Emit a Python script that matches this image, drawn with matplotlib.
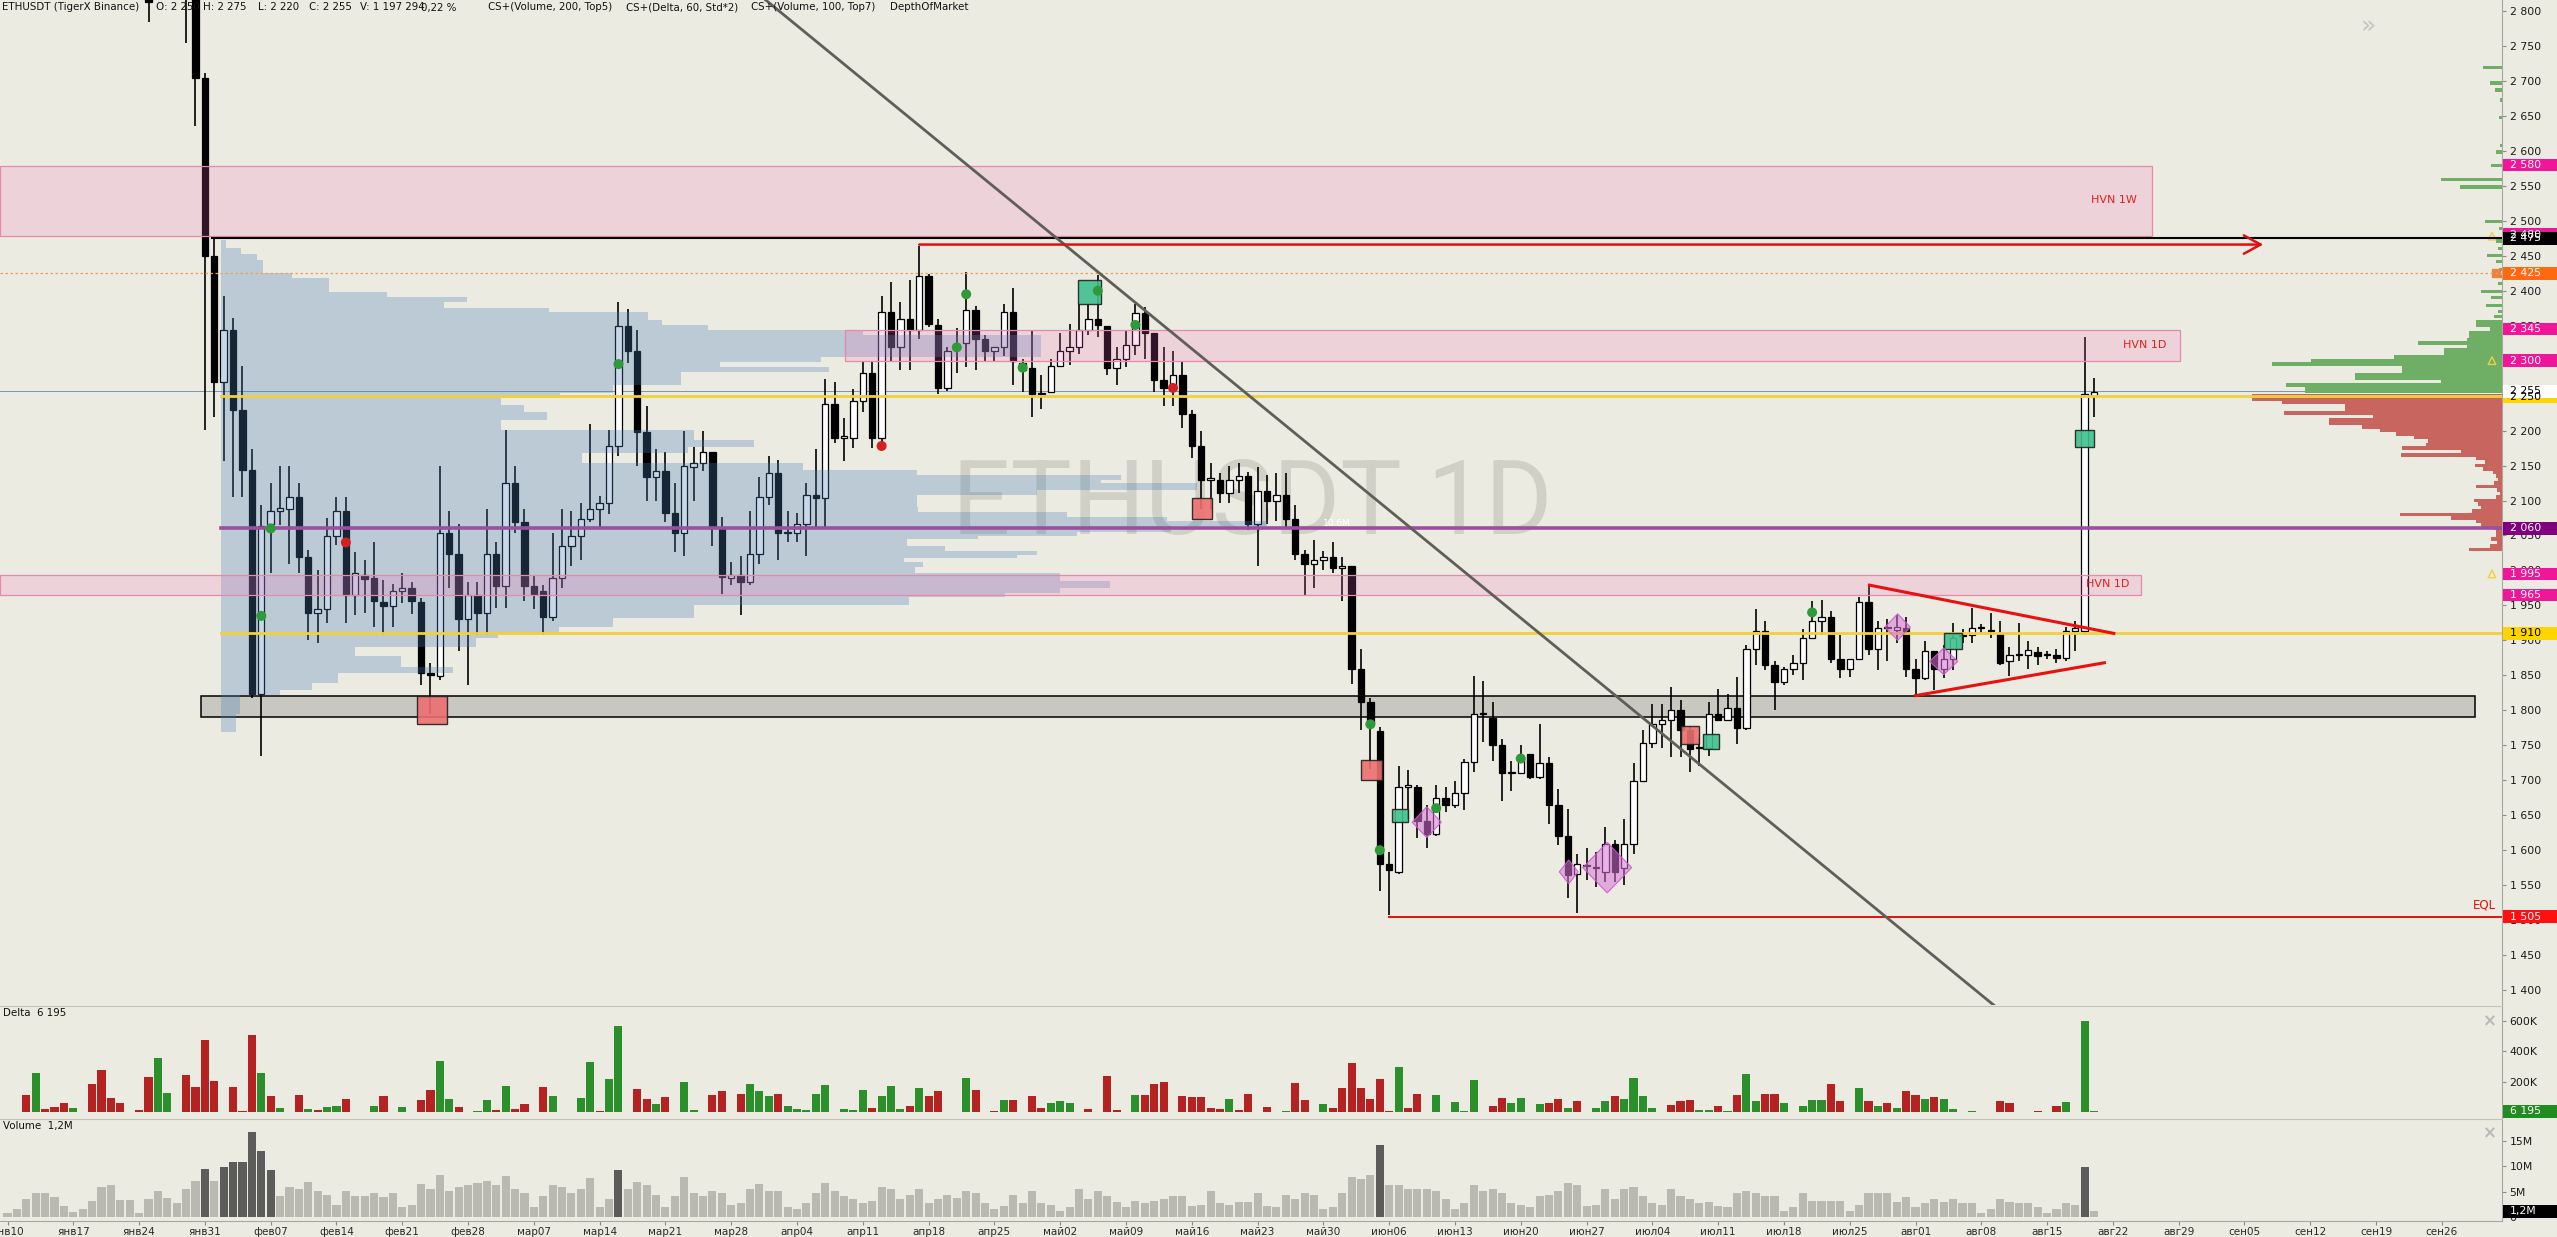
import matplotlib
matplotlib.use('Agg')
import matplotlib.pyplot as plt
from matplotlib.patches import Rectangle, Polygon, FancyArrowPatch
import numpy as np

W, H = 2557, 1237
BG = '#ecebe1'

# ---------------- data ----------------
date_labels = ['янв10','янв17','янв24','янв31','фев07','фев14','фев21','фев28','мар07','мар14',
               'мар21','мар28','апр04','апр11','апр18','апр25','май02','май09','май16','май23',
               'май30','июн06','июн13','июн20','июн27','июл04','июл11','июл18','июл25','авг01',
               'авг08','авг15','авг22','авг29','сен05','сен12','сен19','сен26']

candle_days = [15] + list(range(19, 223))
opens = [2880,
 2900, 2840, 2704, 2449, 2270, 2344, 2229, 2143, 1823, 2067,
 2085, 2088, 2105, 2019, 1939, 1945, 2049, 2085, 1965, 1993,
 1989, 1955, 1949, 1970, 1975, 1955, 1854, 1849, 2054, 2024,
 1930, 1965, 1939, 2024, 1978, 2125, 2069, 1978, 1970, 1934,
 1989, 2035, 2049, 2073, 2088, 2096, 2178, 2350, 2314, 2198,
 2133, 2142, 2082, 2054, 2148, 2153, 2169, 2060, 1989, 1994,
 1984, 2024, 2105, 2139, 2054, 2054, 2066, 2108, 2104, 2238,
 2190, 2190, 2243, 2282, 2190, 2369, 2319, 2359, 2344, 2421,
 2351, 2261, 2319, 2325, 2373, 2331, 2314, 2319, 2370, 2296,
 2290, 2252, 2255, 2293, 2314, 2319, 2344, 2360, 2350, 2289,
 2302, 2323, 2368, 2340, 2272, 2261, 2279, 2223, 2178, 2130,
 2130, 2111, 2130, 2135, 2066, 2114, 2099, 2108, 2073, 2024,
 2009, 2015, 2019, 2004, 2006, 1859, 1812, 1770, 1580, 1569,
 1691, 1691, 1642, 1623, 1674, 1665, 1682, 1726, 1795, 1789,
 1750, 1710, 1710, 1738, 1705, 1725, 1665, 1620, 1566, 1577,
 1575, 1569, 1609, 1575, 1609, 1699, 1753, 1780, 1786, 1800,
 1772, 1746, 1746, 1795, 1786, 1804, 1774, 1888, 1913, 1865,
 1840, 1859, 1868, 1904, 1928, 1934, 1874, 1859, 1874, 1955,
 1887, 1917, 1915, 1917, 1859, 1846, 1885, 1859, 1874, 1906,
 1908, 1917, 1914, 1910, 1870, 1879, 1879, 1884, 1879, 1879,
 1875, 1913, 1913, 2250]
highs = [2900,
 2950, 2860, 2712, 2474, 2393, 2361, 2293, 2173, 2094, 2125,
 2150, 2150, 2125, 2029, 2001, 2075, 2105, 2105, 2026, 2015,
 2040, 1987, 1981, 1996, 1983, 1960, 1868, 2150, 2085, 2066,
 1983, 1983, 2088, 2040, 2201, 2150, 2088, 1994, 1979, 2054,
 2088, 2085, 2096, 2210, 2107, 2201, 2384, 2374, 2344, 2235,
 2173, 2169, 2125, 2199, 2176, 2199, 2169, 2077, 2012, 2020,
 2085, 2133, 2164, 2158, 2085, 2082, 2125, 2173, 2274, 2269,
 2218, 2260, 2299, 2299, 2393, 2413, 2384, 2415, 2464, 2424,
 2359, 2319, 2347, 2427, 2378, 2336, 2319, 2381, 2404, 2302,
 2344, 2280, 2302, 2340, 2353, 2381, 2381, 2423, 2350, 2319,
 2344, 2381, 2376, 2340, 2319, 2314, 2299, 2229, 2199, 2153,
 2139, 2150, 2153, 2141, 2148, 2137, 2139, 2139, 2094, 2029,
 2043, 2028, 2040, 2019, 2006, 1888, 1817, 1776, 1597, 1721,
 1714, 1693, 1665, 1693, 1691, 1699, 1731, 1849, 1842, 1812,
 1759, 1727, 1750, 1738, 1781, 1733, 1688, 1659, 1595, 1603,
 1597, 1633, 1614, 1645, 1725, 1772, 1809, 1809, 1834, 1815,
 1778, 1761, 1812, 1831, 1823, 1848, 1893, 1945, 1928, 1871,
 1862, 1879, 1916, 1956, 1958, 1942, 1908, 1874, 1962, 1979,
 1928, 1930, 1936, 1933, 1874, 1899, 1885, 1893, 1925, 1916,
 1947, 1924, 1939, 1928, 1891, 1925, 1899, 1891, 1885, 1888,
 1919, 1927, 2334, 2275]
lows = [2784,
 2754, 2635, 2201, 2220, 2156, 2105, 2105, 1817, 1735, 1996,
 2065, 2009, 1996, 1900, 1896, 1925, 2037, 1925, 1936, 1939,
 1919, 1908, 1919, 1953, 1938, 1836, 1795, 1843, 1975, 1885,
 1836, 1908, 1907, 1947, 1947, 2054, 1956, 1945, 1908, 1928,
 1975, 2006, 2015, 2069, 2062, 2080, 2164, 2297, 2150, 2099,
 2099, 2069, 2026, 2020, 2099, 2142, 2035, 1967, 1979, 1936,
 1979, 2009, 2094, 2015, 2040, 2040, 2020, 2062, 2062, 2182,
 2156, 2175, 2227, 2175, 2173, 2299, 2286, 2286, 2331, 2348,
 2252, 2257, 2283, 2291, 2286, 2300, 2300, 2306, 2265, 2255,
 2220, 2231, 2255, 2291, 2294, 2310, 2336, 2334, 2280, 2265,
 2291, 2308, 2302, 2255, 2235, 2235, 2204, 2161, 2088, 2088,
 2096, 2096, 2111, 2058, 2006, 2066, 2071, 2060, 2015, 1964,
 1975, 2001, 1996, 1956, 1837, 1772, 1716, 1541, 1507, 1566,
 1645, 1618, 1603, 1620, 1654, 1660, 1657, 1712, 1755, 1727,
 1671, 1684, 1710, 1702, 1702, 1637, 1608, 1532, 1510, 1558,
 1547, 1554, 1554, 1550, 1595, 1697, 1746, 1746, 1733, 1733,
 1712, 1721, 1735, 1784, 1784, 1752, 1772, 1865, 1857, 1800,
 1836, 1851, 1843, 1902, 1908, 1868, 1846, 1848, 1874, 1879,
 1857, 1870, 1896, 1848, 1821, 1843, 1829, 1846, 1857, 1896,
 1896, 1911, 1904, 1865, 1849, 1870, 1859, 1865, 1873, 1868,
 1870, 1885, 1908, 2220]
closes = [2813,
 2840, 2704, 2450, 2270, 2344, 2229, 2143, 1823, 2063, 2085,
 2089, 2105, 2019, 1939, 1945, 2049, 2085, 1965, 1996, 1988,
 1956, 1949, 1970, 1975, 1956, 1854, 1851, 2054, 2024, 1930,
 1965, 1939, 2024, 1978, 2125, 2069, 1978, 1967, 1934, 1989,
 2035, 2049, 2073, 2088, 2096, 2178, 2350, 2314, 2198, 2133,
 2142, 2082, 2054, 2150, 2153, 2169, 2060, 1990, 1994, 1984,
 2024, 2105, 2139, 2054, 2054, 2066, 2108, 2104, 2238, 2190,
 2190, 2243, 2282, 2190, 2369, 2319, 2359, 2344, 2421, 2353,
 2261, 2314, 2319, 2373, 2331, 2314, 2319, 2370, 2299, 2286,
 2252, 2252, 2293, 2314, 2319, 2344, 2359, 2351, 2289, 2302,
 2323, 2368, 2340, 2272, 2261, 2279, 2223, 2178, 2130, 2130,
 2111, 2130, 2135, 2066, 2114, 2099, 2108, 2073, 2024, 2009,
 2015, 2019, 2003, 2006, 1859, 1812, 1780, 1580, 1571, 1691,
 1691, 1642, 1623, 1674, 1665, 1682, 1726, 1795, 1795, 1750,
 1710, 1712, 1731, 1705, 1725, 1665, 1620, 1564, 1580, 1577,
 1575, 1609, 1569, 1609, 1699, 1753, 1780, 1786, 1800, 1772,
 1744, 1746, 1795, 1786, 1804, 1774, 1888, 1913, 1865, 1840,
 1859, 1868, 1904, 1928, 1934, 1874, 1859, 1874, 1955, 1887,
 1917, 1917, 1919, 1859, 1846, 1885, 1859, 1874, 1904, 1908,
 1917, 1917, 1913, 1868, 1879, 1879, 1886, 1877, 1879, 1875,
 1913, 1917, 2252, 2255]

# delta (thousands) and volume (millions) for days 0..222
delta = [2, 5, -114, 259, -21, -36, -62, 31, 2, -187,
 -280, -93, -62, 3, -16, -233, 358, 130, 2, -244,
 -166, -477, -207, 2, -166, -10, -508, 259, -104, 31,
 -3, -114, 21, -16, 36, 41, -88, -5, 5, 41,
 -109, 2, 36, -5, -78, -145, 337, 88, -36, 2,
 10, 83, -16, 171, -20, -52, -3, -166, 104, 3,
 2, 93, 332, -10, 218, 565, 2, -155, -88, 52,
 -98, -2, 197, 16, -2, -114, -140, -2, -119, 187,
 140, 104, -119, 41, 21, 16, 119, 181, -2, 21,
 16, 145, -31, 104, 171, 21, -41, 161, -109, -140,
 5, 2, 223, -145, -2, -10, 83, -83, 2, -109,
 -26, 62, 73, 62, 2, -21, -2, -238, -16, 2,
 114, -114, -187, -197, -2, -109, -98, -98, -31, -21,
 88, -16, -119, -2, -36, 2, 10, -192, -78, -2,
 57, -31, -161, -326, -161, -88, -218, -10, 295, -31,
 -119, -2, 114, 2, 67, 10, 212, 2, -41, -93,
 62, 93, -2, 57, -62, -88, 31, -73, -2, 31,
 73, -109, 88, 228, 109, 31, 2, -47, -73, -78,
 16, 16, -41, 10, -114, 249, 73, -119, -119, 62,
 2, 41, 83, 83, -187, -73, -2, 161, -73, 41,
 -62, 31, -140, -114, 88, -98, 88, 21, 2, 10,
 5, 2, -73, -62, 3, -5, -10, -2, -41, 67,
 2, 601, 6]
volume = [0.8, 1.6, 3.6, 4.7, 4.8, 3.9, 2.3, 1.1, 1.6, 3.3,
 5.9, 6.4, 3.4, 3.4, 0.8, 3.6, 5.2, 3.8, 2.8, 5.5,
 7.2, 9.5, 7.2, 9.8, 10.8, 10.8, 16.7, 13.0, 9.2, 4.2,
 5.9, 5.5, 7.0, 5.2, 4.4, 2.5, 5.2, 4.1, 4.1, 4.7,
 3.9, 4.7, 2.0, 2.5, 6.6, 5.6, 8.3, 5.2, 5.9, 6.4,
 6.7, 7.2, 6.4, 8.1, 5.6, 4.8, 2.0, 4.1, 6.3, 5.9,
 4.7, 5.5, 7.8, 2.0, 3.6, 9.2, 5.5, 7.0, 6.3, 4.4,
 2.0, 4.1, 8.0, 4.7, 4.1, 5.2, 4.7, 2.5, 2.8, 5.5,
 6.6, 5.2, 5.2, 2.0, 1.6, 2.8, 4.8, 6.7, 5.2, 4.1,
 3.6, 2.8, 3.3, 5.9, 5.6, 3.6, 4.4, 5.6, 2.8, 3.6,
 4.4, 3.8, 5.2, 4.7, 2.8, 1.6, 2.3, 4.4, 2.8, 5.2,
 2.8, 2.5, 1.3, 2.0, 5.6, 3.6, 5.2, 4.1, 3.1, 2.0,
 3.3, 2.8, 3.3, 3.6, 4.1, 4.1, 2.3, 2.5, 5.2, 2.8,
 2.5, 3.1, 3.1, 4.7, 2.3, 2.0, 4.4, 3.6, 4.8, 4.4,
 1.6, 2.0, 4.8, 8.0, 7.5, 8.3, 14.2, 6.4, 6.3, 5.5,
 5.6, 5.6, 5.2, 3.6, 1.6, 2.8, 6.4, 5.2, 5.6, 4.8,
 2.8, 2.5, 2.0, 4.1, 4.4, 5.2, 6.7, 6.4, 2.3, 2.5,
 5.5, 3.6, 5.5, 5.9, 4.1, 2.8, 2.5, 5.5, 4.1, 3.6,
 2.8, 3.1, 2.3, 2.0, 4.8, 5.2, 4.8, 4.1, 4.1, 1.3,
 2.0, 4.8, 3.3, 3.3, 3.3, 3.3, 1.3, 2.5, 4.7, 4.7,
 4.7, 3.1, 3.9, 2.0, 2.8, 3.6, 3.1, 3.6, 2.8, 2.8,
 0.9, 1.6, 3.6, 3.1, 2.8, 2.8, 2.0, 0.8, 1.7, 2.8,
 2.4, 9.8, 1.2]
volume_top_days = [21, 23, 24, 25, 26, 27, 28, 65, 146, 221]

# volume profile (price bins, relative volume)
profile_lo = [2461, 2452, 2444, 2425, 2418, 2408, 2398, 2391, 2384, 2375, 2370, 2358, 2351, 2344,
              2337, 2305, 2298, 2291, 2284, 2265, 2254, 2247, 2237, 2227, 2215, 2201, 2187, 2177,
              2168, 2154, 2144, 2137, 2130, 2125, 2115, 2108, 2091, 2084, 2077, 2070, 2064, 2055,
              2049, 2045, 2035, 2028, 2022, 2018, 2012, 2005, 1996, 1985, 1975, 1968, 1962, 1951,
              1932, 1919, 1911, 1903, 1891, 1877, 1862, 1853, 1839, 1829, 1822, 1795, 1769]
profile_hi = [2472, 2461, 2452, 2444, 2425, 2418, 2408, 2398, 2391, 2384, 2375, 2370, 2358, 2351,
              2344, 2337, 2305, 2298, 2291, 2284, 2265, 2254, 2247, 2237, 2227, 2215, 2201, 2187,
              2177, 2168, 2154, 2144, 2137, 2130, 2125, 2115, 2108, 2091, 2084, 2077, 2070, 2064,
              2055, 2049, 2045, 2035, 2028, 2022, 2018, 2012, 2005, 1996, 1985, 1975, 1968, 1962,
              1951, 1932, 1919, 1911, 1903, 1891, 1877, 1862, 1853, 1839, 1829, 1822, 1795]
profile_vol = [5, 20, 36, 42, 71, 108, 108, 166, 246, 223, 328, 427, 441, 487,
               642, 820, 600, 499, 608, 460, 392, 339, 280, 303, 326, 280, 473, 533,
               467, 361, 582, 696, 900, 880, 976, 816, 696, 697, 846, 946, 1046, 950,
               856, 757, 686, 724, 816, 796, 683, 702, 694, 839, 889, 839, 784, 688,
               473, 392, 338, 277, 255, 134, 180, 232, 117, 91, 59, 19, 15]
profile_start_day = 22.7
profile_poc_label = '10,6M'

# depth of market
dom_bid_prices = [2719, 2697, 2687, 2673, 2648, 2608, 2598, 2579, 2559, 2548, 2499, 2489, 2471, 2460,
                  2450, 2442, 2430, 2420, 2410, 2399, 2390, 2379, 2370, 2363, 2355, 2350, 2345, 2340,
                  2335, 2330, 2325, 2320, 2315, 2310, 2305, 2300, 2295, 2290, 2285, 2280, 2275, 2270,
                  2265, 2260, 2256]
dom_bid_sizes = [19, 12, 7, 2, 3, 2, 6, 11, 61, 42, 17, 3, 6, 4,
                 15, 6, 3, 5, 4, 21, 11, 16, 4, 8, 26, 26, 12, 33,
                 33, 35, 84, 35, 58, 58, 108, 191, 230, 100, 100, 147, 147, 61,
                 216, 197, 197]
dom_ask_prices = [2250, 2245, 2240, 2235, 2230, 2225, 2220, 2215, 2210, 2205, 2200, 2195, 2190, 2185,
                  2180, 2175, 2170, 2165, 2160, 2155, 2150, 2145, 2140, 2135, 2130, 2125, 2120, 2115,
                  2110, 2105, 2100, 2095, 2090, 2085, 2080, 2075, 2070, 2065, 2060, 2055, 2050, 2045,
                  2040, 2035, 2030]
dom_ask_sizes = [250, 250, 220, 157, 157, 218, 129, 173, 173, 140, 122, 106, 88, 74,
                 76, 100, 41, 101, 26, 17, 27, 19, 9, 6, 4, 8, 26, 5,
                 2, 6, 28, 24, 21, 30, 102, 51, 26, 21, 8, 6, 6, 11,
                 5, 12, 33]

# levels
hvn_zones = [(-0.8, 228.2, 2478, 2578, 'HVN 1W', 224.1, 2530),
             (89.1, 231.1, 2299, 2344, 'HVN 1D', 227.4, 2323),
             (-0.8, 227.0, 1965, 1994, 'HVN 1D', 223.4, 1981)]
support_zone = (20.6, 262.5, 1790, 1821)
trend_x = [78.0, 214.0]
trend_y = [2845, 1349]
tri_upper_x, tri_upper_y = [198.1, 224.1], [1979, 1910]
tri_lower_x, tri_lower_y = [203.0, 223.1], [1821, 1868]
arrow_x, arrow_y = [97, 240], [2466, 2466]

box_days = [45.2, 115.1, 127.1, 145.1, 148.2, 179.0, 181.2, 207.0, 221.0]
box_w = [3.2, 2.4, 2.2, 2.2, 1.7, 2.0, 1.7, 1.9, 2.0]
box_lo = [1780, 2381, 2074, 1701, 1640, 1752, 1744, 1888, 2176]
box_hi = [1821, 2415, 2103, 1729, 1659, 1778, 1766, 1910, 2201]
box_kind = ['s', 'b', 's', 's', 'b', 's', 'b', 'b', 'b']

dot_days = [27, 28, 36, 65, 93, 101, 102, 108, 116, 120, 124, 145, 146, 152, 161, 192]
dot_prices = [1935, 2060, 2040, 2295, 2178, 2319, 2395, 2290, 2400, 2351, 2261, 1780, 1600, 1660, 1731, 1940]
dot_kind = ['b', 'b', 's', 'b', 's', 'b', 'b', 'b', 'b', 'b', 's', 'b', 'b', 'b', 'b', 'b']

dia_days = [151.0, 166.1, 170.2, 201.1, 206.0]
dia_prices = [1640, 1569, 1575, 1919, 1870]
dia_hw = [1.55, 1.0, 2.6, 1.35, 1.5]
dia_hh = [22, 17, 36, 19, 19]

right_labels = [(2580, '2 580', '#f0169a', 'white'), (2480, '2 480', '#f0169a', 'white'),
                (2475, '2 475', 'black', 'white'),
                (2425, '2 425', '#ff6a10', 'white'), (2345, '2 345', '#f0169a', 'white'),
                (2300, '2 300', '#f0169a', 'white'), (2248, '2 250', '#ffd400', 'black'),
                (2256, '2 255', 'white', 'black'), (2060, '2 060', '#800080', 'white'),
                (1995, '1 995', '#f0169a', 'white'), (1965, '1 965', '#f0169a', 'white'),
                (1910, '1 910', '#ffd400', 'black'), (1505, '1 505', '#ff1010', 'white')]
alert_prices = [2478, 2300, 1995]

# ---------------- figure ----------------
PXD = 9.4  # pixels per day at this size (for px-like units)
fig = plt.figure(figsize=(W / 100, H / 100), dpi=100, facecolor=BG)
AXW = 2502 / W
ax = fig.add_axes([0, 1 - 1005 / H, AXW, 1005 / H])
axd = fig.add_axes([0, 1 - 1118 / H, AXW, 112 / H], sharex=ax)
axv = fig.add_axes([0, 1 - 1221 / H, AXW, 102 / H], sharex=ax)
for a in (ax, axd, axv):
    a.set_facecolor(BG)
    for s in ('left', 'bottom'):
        a.spines[s].set_visible(False)
    a.spines['right'].set_color('#a8a8a0')
    a.spines['top'].set_color('#c4c4bc')
    a.yaxis.tick_right()
    a.tick_params(axis='y', direction='out', length=3, width=0.8, colors='#8c8c8c',
                  labelcolor='#1a1a1a', labelsize=7.8, pad=2.5)
    a.tick_params(axis='x', bottom=False, labelbottom=False)
ax.spines['top'].set_visible(False)
axv.spines['bottom'].set_visible(True)
axv.spines['bottom'].set_color('#a8a8a0')

ax.set_xlim(-0.8, 265.4)
ax.set_ylim(1378.6, 2815.7)
axd.set_ylim(-37, 697)
axv.set_ylim(-0.7, 19.25)

pt = np.arange(1400, 2801, 50)
ax.set_yticks(pt)
ax.set_yticklabels([f'{int(v):,}'.replace(',', ' ') for v in pt])
axd.set_yticks([0, 200, 400, 600])
axd.set_yticklabels(['0', '200K', '400K', '600K'])
axv.set_yticks([0, 5, 10, 15])
axv.set_yticklabels(['0', '5M', '10M', '15M'])
axv.tick_params(axis='x', bottom=True, labelbottom=True, direction='out', length=3,
                colors='#8c8c8c', labelcolor='#2a2a2a', labelsize=7.5, pad=1)
axv.set_xticks(np.arange(len(date_labels)) * 7)
axv.set_xticklabels(date_labels)

# watermark
ax.text(132.4, 2093, 'ETHUSDT 1D', fontsize=74, family='Roboto', color='#d0d0c7',
        ha='center', va='center', zorder=0.5)

# support zone
sz = support_zone
ax.add_patch(Rectangle((sz[0], sz[2]), sz[1] - sz[0], sz[3] - sz[2], facecolor='#c8c8c0',
                       edgecolor='black', lw=1.1, zorder=1.5))

# current-price thin line
ax.axhline(2256, color='#7a94b0', lw=0.7, zorder=1.6)

# candles
cd = np.array(candle_days, float)
o = np.array(opens, float); hh = np.array(highs, float)
ll = np.array(lows, float); cc = np.array(closes, float)
up = cc >= o
blo = np.minimum(o, cc)
bh = np.maximum(np.abs(cc - o), 1.6)
ax.vlines(cd, ll, hh, color='black', lw=1.2, zorder=3)
ax.bar(cd[up], bh[up], bottom=blo[up], width=0.68, color='white', edgecolor='black', lw=0.9, zorder=4)
ax.bar(cd[~up], bh[~up], bottom=blo[~up], width=0.68, color='black', edgecolor='black', lw=0.9, zorder=4)

# volume profile
plo = np.array(profile_lo, float); phi = np.array(profile_hi, float)
pv = np.array(profile_vol, float)
ax.barh(plo, pv / PXD, height=phi - plo, left=profile_start_day, align='edge',
        color='#4a80b8', alpha=0.30, lw=0, zorder=5)
ip = int(np.argmax(pv))
ax.text(profile_start_day + pv[ip] / PXD + 6, (plo[ip] + phi[ip]) / 2, profile_poc_label,
        color='white', fontsize=6.5, ha='left', va='center', zorder=5.5)

# HVN zones
for x0, x1, y0, y1, lab, lx, ly in hvn_zones:
    ax.add_patch(Rectangle((x0, y0), x1 - x0, y1 - y0, facecolor=(0.98, 0.43, 0.75, 0.2),
                           edgecolor='#e888aa', lw=0.9, zorder=5.2))
    ax.text(lx, ly, lab, color='#e02020', fontsize=8, ha='center', va='center', zorder=9)

# level lines
ax.plot([-0.8, 265.4], [2425, 2425], color='#e8a060', lw=0.9, ls=(0, (2, 2)), zorder=6)
ax.plot([21.8, 265.4], [2475, 2475], color='black', lw=1.5, zorder=6)
ax.plot([profile_start_day, 265.4], [2250, 2250], color='#f0d040', lw=2.0, zorder=6)
ax.plot([profile_start_day, 265.4], [1910, 1910], color='#f0d040', lw=2.0, zorder=6)
ax.plot([profile_start_day, 265.4], [2060, 2060], color='#9b4f9f', lw=2.6, zorder=6)
ax.plot([147, 265.4], [1505, 1505], color='#e01010', lw=1.4, zorder=6)
ax.text(264.8, 1512, 'EQL', color='#e01010', fontsize=8.5, ha='right', va='bottom', zorder=9)

# drawings
ax.plot(trend_x, trend_y, color='#5e5e5a', lw=2.0, zorder=6, solid_capstyle='butt')
ax.plot(tri_upper_x, tri_upper_y, color='#e81010', lw=2.2, zorder=6.5)
ax.plot(tri_lower_x, tri_lower_y, color='#e81010', lw=2.2, zorder=6.5)
ax.add_patch(FancyArrowPatch((arrow_x[0], arrow_y[0]), (arrow_x[1], arrow_y[1]),
                             arrowstyle='->,head_length=0.55,head_width=0.3', mutation_scale=22,
                             color='#e01010', lw=1.8, zorder=6.5, shrinkA=0, shrinkB=0))

# cluster boxes
for xd, w, y0, y1, k in zip(box_days, box_w, box_lo, box_hi, box_kind):
    fc = '#3fc08e' if k == 'b' else '#ec6f6f'
    ax.add_patch(Rectangle((xd - w / 2, y0), w, y1 - y0, facecolor=fc, alpha=0.9,
                           edgecolor='#202020', lw=1.0, zorder=7))

# diamonds
for xd, yp, hw, hh_ in zip(dia_days, dia_prices, dia_hw, dia_hh):
    ax.add_patch(Polygon([(xd - hw, yp), (xd, yp + hh_), (xd + hw, yp), (xd, yp - hh_)],
                         closed=True, facecolor=(0.85, 0.45, 0.85, 0.55),
                         edgecolor=(0.8, 0.35, 0.8, 0.9), lw=0.8, zorder=7.2))

# dots
dcol = ['#2e9a3a' if k == 'b' else '#d42020' for k in dot_kind]
ax.scatter(dot_days, dot_prices, s=52, c=dcol, marker='o', zorder=8, linewidths=0)

# DOM
dom = ax.inset_axes([1 - 300 / 2502, 0, 300 / 2502, 1])
dom.set_xlim(300, 0)
dom.set_ylim(1378.6, 2815.7)
dom.axis('off')
dom.patch.set_alpha(0)
dom.barh(dom_bid_prices, dom_bid_sizes, height=5, color='#6fae65', lw=0)
dom.barh(dom_ask_prices, dom_ask_sizes, height=5, color='#c8655f', lw=0)
dom.scatter([10] * len(alert_prices), alert_prices, s=30, marker='^', facecolors='none',
            edgecolors='#f0d040', linewidths=1.0, zorder=6)
dom.scatter([6], [2425], s=30, marker='s', color='#f08040', zorder=6)

# delta bars
days = np.arange(len(delta))
dv = np.array(delta, float)
axd.bar(days, np.abs(dv), width=0.86, color=np.where(dv >= 0, '#2b8f2b', '#b52222'), lw=0)

# volume bars
vv = np.array(volume, float)
vcol = ['#5c5c5a' if d in volume_top_days else '#b9b9b1' for d in days]
axv.bar(days, vv, width=0.86, color=vcol, lw=0)

# right labels
ytr = ax.get_yaxis_transform()
for p, txt, fc, tc in right_labels:
    ax.add_patch(Rectangle((1.0004, p - 9), 55 / 2502, 18, transform=ytr, facecolor=fc,
                           edgecolor='none', clip_on=False, zorder=20))
    ax.text(1 + 8 / 2502, p, txt, transform=ytr, color=tc, fontsize=7.8, va='center',
            ha='left', clip_on=False, zorder=21)
dtr = axd.get_yaxis_transform()
axd.add_patch(Rectangle((1.0004, 6 - 41), 55 / 2502, 82, transform=dtr, facecolor='#228b22',
                        edgecolor='none', clip_on=False, zorder=20))
axd.text(1 + 8 / 2502, 6, '6 195', transform=dtr, color='white', fontsize=7.8, va='center',
         ha='left', clip_on=False, zorder=21)
vtr = axv.get_yaxis_transform()
axv.add_patch(Rectangle((1.0004, 1.2 - 1.3), 55 / 2502, 2.6, transform=vtr, facecolor='black',
                        edgecolor='none', clip_on=False, zorder=20))
axv.text(1 + 8 / 2502, 1.2, '1,2M', transform=vtr, color='white', fontsize=7.8, va='center',
         ha='left', clip_on=False, zorder=21)

# header
hdr = [(2, 'ETHUSDT (TigerX Binance)'), (156, 'O: 2 250'), (203, 'H: 2 275'), (258, 'L: 2 220'),
       (309, 'C: 2 255'), (360, 'V: 1 197 294'), (421, '0,22 %'), (488, 'CS+(Volume, 200, Top5)'),
       (626, 'CS+(Delta, 60, Std*2)'), (751, 'CS+(Volume, 100, Top7)'), (890, 'DepthOfMarket')]
for x, t in hdr:
    fig.text(x / W, 1 - 7.5 / H, t, fontsize=7.4, va='center', ha='left', color='#111111')
fig.text(3 / W, 1 - 1013 / H, 'Delta  6 195', fontsize=7.4, va='center', ha='left', color='#111111')
fig.text(3 / W, 1 - 1126 / H, 'Volume  1,2M', fontsize=7.4, va='center', ha='left', color='#111111')
fig.text(2490 / W, 1 - 1021 / H, '×', fontsize=12, va='center', ha='center', color='#b8b8b8', weight='bold')
fig.text(2490 / W, 1 - 1133 / H, '×', fontsize=12, va='center', ha='center', color='#b8b8b8', weight='bold')
fig.text(2368 / W, 1 - 27 / H, '»', fontsize=18, va='center', ha='center', color='#c4c4c4')

fig.savefig('out.png', dpi=100, facecolor=BG)
